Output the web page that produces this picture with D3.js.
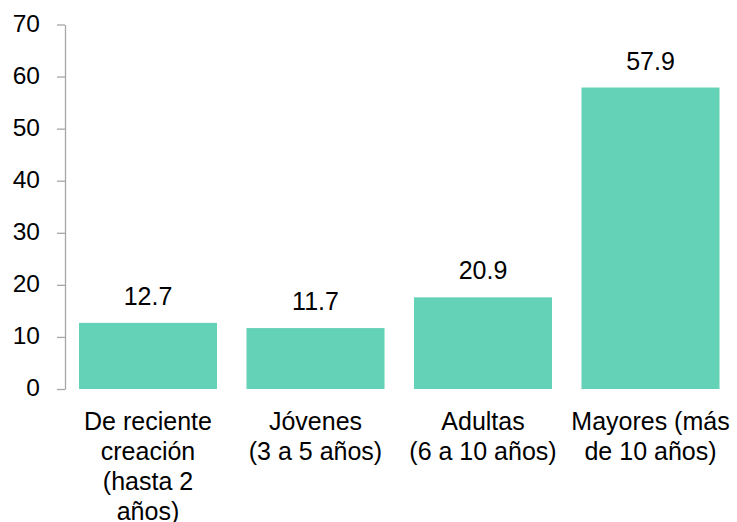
<!DOCTYPE html>
<html>
<head>
<meta charset="utf-8">
<script src="https://cdn.jsdelivr.net/npm/d3@7"></script>
<style>
  body { margin: 0; background: #fff; }
  svg { display: block; font-family: "Liberation Sans", Arial, sans-serif; }
</style>
</head>
<body>
<svg id="chart"></svg>
<script>
// categories (one line per entry, as wrapped in the chart)
var categories = [
    ["De reciente", "creación", "(hasta 2", "años)"],
    ["Jóvenes", "(3 a 5 años)"],
    ["Adultas", "(6 a 10 años)"],
    ["Mayores (más", "de 10 años)"]
];
// bar heights as drawn
var barValues = [12.7, 11.7, 17.6, 57.9];
// printed data labels
var labelTexts = ["12.7", "11.7", "20.9", "57.9"];
var yTicks = [0, 10, 20, 30, 40, 50, 60, 70];

var width = 737;
var height = 522;

var svg = d3.select("#chart")
    .attr("width", width)
    .attr("height", height);

var xScale = d3.scaleBand()
    .domain(d3.range(categories.length))
    .range([64.25, 734.25])
    .paddingInner(0.176)
    .paddingOuter(0.088);

var yScale = d3.scaleLinear()
    .domain([0, 70])
    .range([389, 24.5]);

// y axis
var yAxis = d3.axisLeft(yScale)
    .tickValues(yTicks)
    .tickSize(8)
    .tickSizeOuter(0)
    .tickPadding(17);

var gy = svg.append("g")
    .attr("transform", "translate(65,0)")
    .call(yAxis);

gy.select(".domain").attr("stroke", "#a6a6a6").attr("stroke-width", 1.3);
gy.selectAll(".tick line").attr("stroke", "#a6a6a6").attr("stroke-width", 1.3);
gy.selectAll(".tick text")
    .attr("fill", "#000")
    .attr("dy", "0.28em")
    .style("font-size", "24.5px")
    .style("font-family", "'Liberation Sans', Arial, sans-serif");

// bars
svg.selectAll("rect.bar")
    .data(barValues)
    .enter()
    .append("rect")
    .attr("class", "bar")
    .attr("x", function(d, i) { return xScale(i); })
    .attr("y", function(d) { return yScale(d); })
    .attr("width", xScale.bandwidth())
    .attr("height", function(d) { return yScale(0) - yScale(d); })
    .attr("fill", "#63d2b6");

// value labels
svg.selectAll("text.value")
    .data(barValues)
    .enter()
    .append("text")
    .attr("class", "value")
    .attr("x", function(d, i) { return xScale(i) + xScale.bandwidth() / 2; })
    .attr("y", function(d) { return yScale(d) - 18; })
    .attr("text-anchor", "middle")
    .style("font-size", "25px")
    .attr("fill", "#000")
    .text(function(d, i) { return labelTexts[i]; });

// category labels
var cat = svg.selectAll("text.cat")
    .data(categories)
    .enter()
    .append("text")
    .attr("class", "cat")
    .attr("text-anchor", "middle")
    .style("font-size", "25px")
    .attr("fill", "#000");

cat.selectAll("tspan")
    .data(function(d, i) { return d.map(function(line) { return {line: line, i: i}; }); })
    .enter()
    .append("tspan")
    .attr("x", function(d) { return xScale(d.i) + xScale.bandwidth() / 2; })
    .attr("y", function(d, j) { return 430 + j * 30; })
    .text(function(d) { return d.line; });
</script>
</body>
</html>
